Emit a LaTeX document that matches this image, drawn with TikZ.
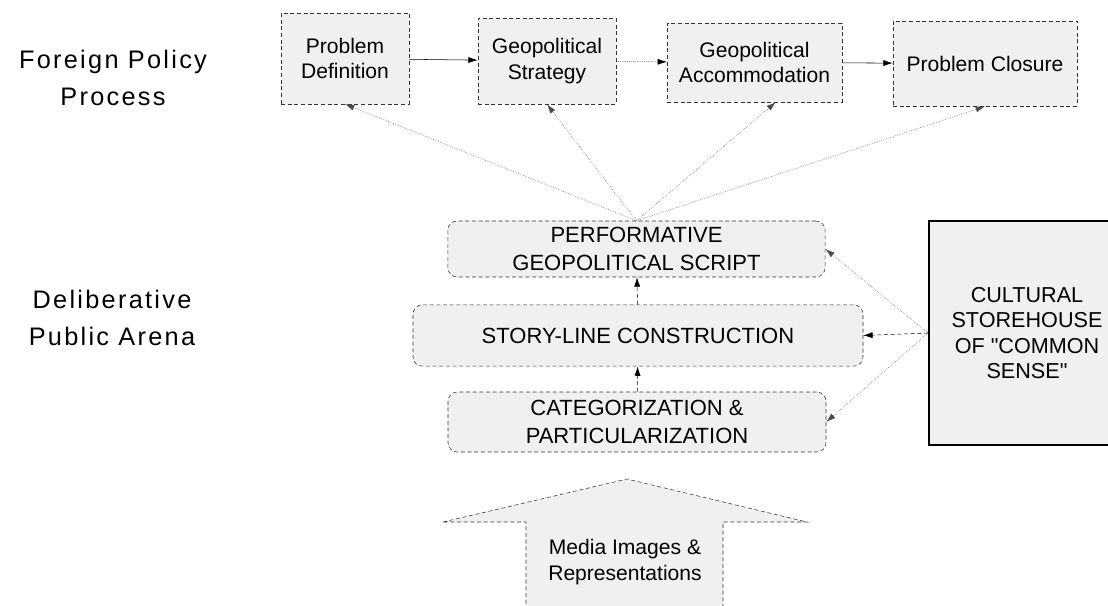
\documentclass[tikz,border=0pt]{standalone}
\usepackage{fontspec}
\setmainfont{Liberation Sans}
\newfontfamily\spacedfont[LetterSpace=9]{Liberation Sans}
\newfontfamily\plainfont{Liberation Sans}
\usetikzlibrary{arrows.meta}

\begin{document}
\begin{tikzpicture}[%
 x=0.75pt,y=-0.75pt,
 procbox/.style={
 	rectangle,
 	draw=black!80,
 	densely dashed,
 	fill=gray!12,
 	align=center,
 	inner sep=0pt,
 	font=\fontsize{15.8}{19}\selectfont
 },
 arenabox/.style={
 	rectangle,
 	draw=black!80,
 	densely dashed,
 	fill=gray!12,
 	align=center,
 	rounded corners=7pt,
 	inner sep=0pt,
 	font=\fontsize{16.5}{20.5}\selectfont
 },
 storebox/.style={
 	rectangle,
 	draw=black,
 	line width=1.6pt,
 	fill=gray!12,
 	align=center,
 	inner sep=0pt,
 	font=\fontsize{16.2}{19}\plainfont
 },
 sidelabel/.style={
 	align=center,
 	font=\fontsize{19}{28}\spacedfont
 },
 line/.style={
 	draw,thin,
 	-{Latex[length=7pt,width=4.5pt]}
 },
 fan/.style={
 	draw=black!70,thin,
 	densely dotted,
 	-{Latex[length=7pt,width=4.5pt]}
 }
 ]
\useasboundingbox (0,0) rectangle (1108,606);

% left side labels
\path (113,78) node[sidelabel] (FP) {Foreign Policy\\Process}
 (112,318) node[sidelabel] (DA) {Deliberative\\Public Arena};

% foreign policy process
\path (345,58.5) node[procbox,minimum width=96pt,minimum height=68pt] (PD) {Problem\\Definition}
 (547,61) node[procbox,minimum width=103.5pt,minimum height=64.5pt] (GS) {Geopolitical\\Strategy}
 (754.5,62.5) node[procbox,minimum width=131pt,minimum height=59pt] (GA) {Geopolitical\\Accommodation}
 (985,63.5) node[procbox,minimum width=138pt,minimum height=64pt] (PC) {Problem Closure};

% public arena
\path (636.5,249) node[arenabox,minimum width=283pt,minimum height=42pt] (PS) {PERFORMATIVE\\GEOPOLITICAL SCRIPT}
 (638,335.5) node[arenabox,minimum width=337.5pt,minimum height=46pt] (SL) {STORY-LINE CONSTRUCTION}
 (637,422) node[arenabox,minimum width=283.5pt,minimum height=45pt] (CP) {CATEGORIZATION \&\\PARTICULARIZATION};
\draw (1027,333) node[storebox,minimum width=147pt,minimum height=168pt] (CS) {CULTURAL\\STOREHOUSE\\OF "COMMON\\SENSE"};

% media arrow
\draw[densely dashed,draw=black!80,fill=gray!12] (443,522) -- (627,479) -- (807,522) -- (723,522)
 -- (723,612) -- (526,612) -- (526,522) -- cycle;
\path (625,562) node[align=center,font=\fontsize{15.8}{19}\selectfont] (MI) {Media Images \&\\Representations};

\draw[line] (PD) -- (GS);
\draw[line,densely dotted] (GS) -- (GA);
\draw[line] (GA) -- (PC);

\draw[fan] (PS.north) -- (PD.south);
\draw[fan] (PS.north) -- (GS.south);
\draw[fan] (PS.north) -- ([xshift=16pt]GA.south);
\draw[fan] (PS.north) -- (PC.south);

\draw[line,densely dashed] (SL) -- (PS);
\draw[line,densely dashed] (CP) -- (SL);

\draw[fan] (CS.west) -- (PS.east);
\draw[line,densely dashed] (CS.west) -- (SL.east);
\draw[fan] (CS.west) -- (CP.east);
\end{tikzpicture}
\end{document}
